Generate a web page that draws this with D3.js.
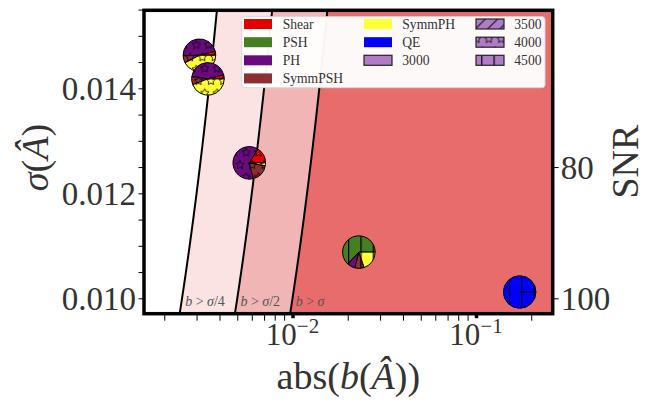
<!DOCTYPE html>
<html><head><meta charset="utf-8">
<script src="https://cdn.jsdelivr.net/npm/d3@7/dist/d3.min.js"></script>
<style>
html,body{margin:0;padding:0;background:#fff;}
svg{display:block;font-family:"Liberation Serif","Times New Roman",serif;}
</style></head><body>
<svg id="chart" width="646" height="403"></svg>
<script>
// ---------------- data ----------------
const methods = ["Shear", "PSH", "PH", "SymmPSH", "SymmPH", "QE"];
const lmaxValues = ["3000", "3500", "4000", "4500"];
const pieBias  = [0.00311, 0.00346, 0.00581, 0.0230, 0.173];
const pieSigma = [0.01463, 0.01418, 0.01258, 0.01088, 0.01012];
const pieLmax  = ["4000", "4000", "4000", "4500", "4500"];
// share of each method in each pie (degrees, order = methods)
const pieShares = [
  [15, 0, 167, 26, 152, 0],
  [15, 0, 157, 29, 159, 0],
  [58, 0, 227, 65, 10, 0],
  [0, 227, 29, 33, 71, 0],
  [0, 0, 0, 0, 0, 360]
];
const boundFactors = [0.25, 0.5, 1];
const boundLabels = ["/4", "/2", ""];
const yMajorTicks = [0.010, 0.012, 0.014];
const snrTicks = [80, 100];
const xMajorExponents = [-2, -1];

// ---------------- styles ----------------
const methodColors = ["#e50000", "#467f1f", "#6b0a80", "#8c2f34", "#ffff33", "#0000ff"];
const lmaxHatch = {"3000": null, "3500": "hatch-diag", "4000": "hatch-star", "4500": "hatch-vert"};
const boundFills = ["#fbe3e3", "#f2b5b5", "#e86c6c"];
const lavender = "#b07cc6";
const textCol = "#333";

const L = 144, R = 552.7, T = 10.3, B = 313.7;
const xDomain = [0.001551, 0.26183];
const yDomain = [0.009707, 0.015486];
const PR = 16.3;

const svg = d3.select("#chart");
const defs = svg.append("defs");
const x = d3.scaleLog().domain(xDomain).range([L, R]);
const y = d3.scaleLinear().domain(yDomain).range([B, T]);

// hatch patterns
const S = 12.3;
const pDiag = defs.append("pattern").attr("id", "hatch-diag").attr("patternUnits", "userSpaceOnUse")
  .attr("width", S).attr("height", S);
pDiag.append("path").attr("d", `M0,${S} L${S},0 M${-S/2},${S/2} L${S/2},${-S/2} M${S/2},${S*1.5} L${S*1.5},${S/2}`)
  .attr("stroke", "#000").attr("stroke-width", 1).attr("fill", "none");
const pVert = defs.append("pattern").attr("id", "hatch-vert").attr("patternUnits", "userSpaceOnUse")
  .attr("width", S).attr("height", S).attr("x", 1.5);
pVert.append("line").attr("x1", 0.6).attr("x2", 0.6).attr("y1", 0).attr("y2", S).attr("stroke", "#000").attr("stroke-width", 1.2);
function starPath(cx, cy, ro) {
  const ri = ro * 0.5, pts = [];
  for (let i = 0; i < 10; i++) {
    const a = -Math.PI / 2 + i * Math.PI / 5, r = i % 2 ? ri : ro;
    pts.push([cx + r * Math.cos(a), cy + r * Math.sin(a)]);
  }
  return "M" + pts.map(p => p.join(",")).join("L") + "Z";
}
const pStar = defs.append("pattern").attr("id", "hatch-star").attr("patternUnits", "userSpaceOnUse")
  .attr("width", S).attr("height", 2 * S).attr("x", 3).attr("y", 2);
[[0, 0], [S, 0], [0, 2 * S], [S, 2 * S], [S / 2, S]].forEach(p => {
  pStar.append("path").attr("d", starPath(p[0], p[1], 4.5)).attr("fill", "none").attr("stroke", "#000").attr("stroke-width", 0.8);
});

// clip
defs.append("clipPath").attr("id", "plotclip").append("rect")
  .attr("x", L).attr("y", T).attr("width", R - L).attr("height", B - T);

const plot = svg.append("g").attr("clip-path", "url(#plotclip)");
plot.append("rect").attr("x", L).attr("y", T).attr("width", R - L).attr("height", B - T).attr("fill", "#fff");

const sigSamples = d3.range(0, 121).map(i => yDomain[0] - 0.0003 + (yDomain[1] - yDomain[0] + 0.0006) * i / 120);
boundFactors.forEach((k, i) => {
  const pts = sigSamples.map(s => [x(k * s), y(s)]);
  const poly = pts.concat([[R + 10, T - 20], [R + 10, B + 20]]);
  plot.append("path").attr("d", "M" + poly.map(p => p.join(",")).join("L") + "Z").attr("fill", boundFills[i]);
});
boundFactors.forEach(k => {
  plot.append("path").attr("d", d3.line()(sigSamples.map(s => [x(k * s), y(s)])))
    .attr("fill", "none").attr("stroke", "#000").attr("stroke-width", 2);
});
boundFactors.forEach((k, i) => {
  const t = plot.append("text").attr("x", x(k * yDomain[0]) + 5.5).attr("y", 305.5)
    .attr("font-size", 14).attr("fill", "#555");
  t.append("tspan").attr("font-style", "italic").text("b");
  t.append("tspan").text(" > ");
  t.append("tspan").attr("font-style", "italic").text("σ");
  t.append("tspan").text(boundLabels[i]);
});

// pies
const arc = d3.arc().innerRadius(0).outerRadius(PR);
const pieGen = d3.pie().sort(null).value(d => d.v).startAngle(Math.PI / 2).endAngle(Math.PI / 2 - 2 * Math.PI);
pieBias.forEach((b, i) => {
  const g = svg.append("g").attr("transform", `translate(${x(b)},${y(pieSigma[i])})`);
  const items = pieShares[i].map((v, j) => ({v, m: j})).filter(d => d.v > 0);
  const arcs = pieGen(items);
  const hatch = lmaxHatch[pieLmax[i]];
  arcs.forEach(a => {
    g.append("path").attr("d", arc(a)).attr("fill", methodColors[a.data.m]);
    if (hatch) g.append("path").attr("d", arc(a)).attr("fill", `url(#${hatch})`);
    g.append("path").attr("d", arc(a)).attr("fill", "none").attr("stroke", "#000").attr("stroke-width", 1);
    if (Math.abs(a.endAngle - a.startAngle) >= 2 * Math.PI - 1e-6) {
      g.append("line").attr("x1", 0).attr("y1", 0)
        .attr("x2", PR * Math.sin(a.startAngle)).attr("y2", -PR * Math.cos(a.startAngle))
        .attr("stroke", "#000").attr("stroke-width", 1);
    }
  });
});

// legend
const lg = svg.append("g");
lg.append("rect").attr("x", 241.7).attr("y", 16.7).attr("width", 303.3).attr("height", 71).attr("rx", 3)
  .attr("fill", "#fff").attr("fill-opacity", 0.96).attr("stroke", "#d8d8d8").attr("stroke-width", 1);
const legendItems = methods.map((m, j) => ({label: m, color: methodColors[j], hatch: null, edge: false}))
  .concat(lmaxValues.map(v => ({label: v, color: lavender, hatch: lmaxHatch[v], edge: true})));
const colCounts = [4, 3, 3];
const colSwatchX = [244, 364, 476];
const colTextX = [282.7, 402.3, 514.3];
const rowY = [24, 42.2, 60.3, 78.4];
let idx = 0;
colCounts.forEach((n, c) => {
  for (let r = 0; r < n; r++, idx++) {
    const it = legendItems[idx];
    const sx = colSwatchX[c], sy = rowY[r] - 5;
    lg.append("rect").attr("x", sx).attr("y", sy).attr("width", 28).attr("height", 10).attr("fill", it.color);
    if (it.hatch) lg.append("rect").attr("x", sx).attr("y", sy).attr("width", 28).attr("height", 10).attr("fill", `url(#${it.hatch})`);
    if (it.edge) lg.append("rect").attr("x", sx).attr("y", sy).attr("width", 28).attr("height", 10)
      .attr("fill", "none").attr("stroke", "#222").attr("stroke-width", 1.2);
    lg.append("text").attr("x", colTextX[c]).attr("y", rowY[r] + 4.8).attr("font-size", 13.6)
      .attr("fill", textCol).text(it.label);
  }
});

// frame
svg.append("rect").attr("x", L).attr("y", T).attr("width", R - L).attr("height", B - T)
  .attr("fill", "none").attr("stroke", "#000").attr("stroke-width", 3.5);

// axes
function styleAxis(g, sw) {
  g.select(".domain").remove();
  g.selectAll("line").attr("stroke", "#000").attr("stroke-width", sw);
  g.attr("font-family", null).attr("font-size", null);
  g.selectAll("text").attr("fill", textCol).attr("font-size", 33);
}
const yMinor = d3.range(0, 12).map(i => 0.0100 + i * 0.0005).filter(v => !yMajorTicks.some(t => Math.abs(t - v) < 1e-9));
const gLm = svg.append("g").attr("transform", `translate(${L},0)`).call(d3.axisLeft(y).tickValues(yMinor).tickSize(5.5).tickFormat(""));
styleAxis(gLm, 1);
const gL = svg.append("g").attr("transform", `translate(${L},0)`)
  .call(d3.axisLeft(y).tickValues(yMajorTicks).tickSize(5.5).tickPadding(2.5).tickFormat(d3.format(".3f")));
styleAxis(gL, 1);
gL.selectAll("text").attr("dy", "0.34em");

const gR = svg.append("g").attr("transform", `translate(${R},0)`)
  .call(d3.axisRight(y).tickValues(snrTicks.map(s => 1 / s)).tickSize(6).tickPadding(2).tickFormat(d => Math.round(1 / d)));
styleAxis(gR, 1);
gR.selectAll("text").attr("dy", "0.34em");

const xMinor = [];
[-3, -2, -1].forEach(e => { for (let m = 2; m <= 9; m++) { const v = m * Math.pow(10, e); if (v > xDomain[0] && v < xDomain[1]) xMinor.push(v); } });
const gBm = svg.append("g").attr("transform", `translate(0,${B})`).call(d3.axisBottom(x).tickValues(xMinor).tickSize(7).tickFormat(""));
styleAxis(gBm, 1);
const gB = svg.append("g").attr("transform", `translate(0,${B})`)
  .call(d3.axisBottom(x).tickValues(xMajorExponents.map(e => Math.pow(10, e))).tickSize(4.5).tickFormat(""));
styleAxis(gB, 3.5);
xMajorExponents.forEach(e => {
  const t = svg.append("text").attr("x", x(Math.pow(10, e))).attr("y", 345).attr("text-anchor", "middle")
    .attr("font-size", 31).attr("fill", textCol);
  t.append("tspan").text("10");
  t.append("tspan").attr("font-size", 21).attr("dy", -12).text("−" + Math.abs(e));
});

// axis labels
const XF = 38;
const xl = svg.append("text").attr("x", (L + R) / 2).attr("y", 389).attr("text-anchor", "middle")
  .attr("font-size", XF).attr("fill", textCol);
xl.append("tspan").text("abs(");
xl.append("tspan").attr("font-style", "italic").text("b");
xl.append("tspan").text("(");
xl.append("tspan").attr("font-style", "italic").text("Â");
xl.append("tspan").text("))");

const yl = svg.append("g").attr("transform", "translate(47.5,157.5) rotate(-90)")
  .append("text").attr("x", 0).attr("y", 0).attr("text-anchor", "middle").attr("font-size", XF).attr("fill", textCol);
yl.append("tspan").attr("font-style", "italic").text("σ");
yl.append("tspan").text("(");
yl.append("tspan").attr("font-style", "italic").text("Â");
yl.append("tspan").text(")");

svg.append("g").attr("transform", "translate(638,161.6) rotate(-90)")
  .append("text").attr("text-anchor", "middle").attr("font-size", XF).attr("fill", textCol).text("SNR");
</script>
</body></html>
